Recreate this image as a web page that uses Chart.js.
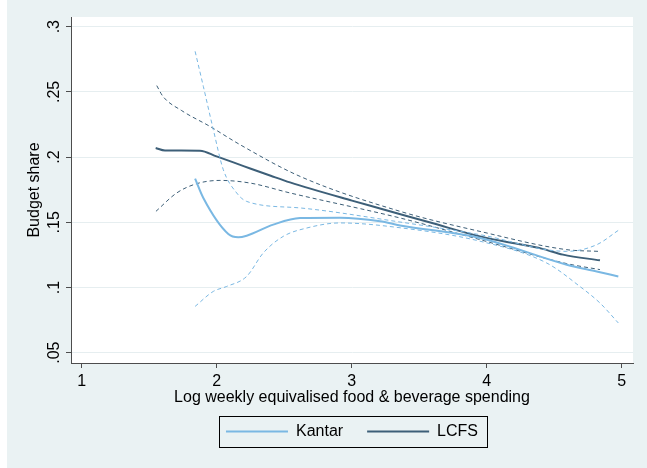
<!DOCTYPE html>
<html>
<head>
<meta charset="utf-8">
<script src="https://cdn.jsdelivr.net/npm/chart.js@4.4.1/dist/chart.umd.min.js"></script>
<style>
  html, body { margin: 0; padding: 0; background: #ffffff; }
</style>
</head>
<body>
<canvas id="engelChart" width="647" height="468"></canvas>
<script>
// DATA: log weekly equivalised spending (x) vs budget share (y)
const kantarLogSpend = [1.84, 1.901, 2.086, 2.16, 2.222, 2.419, 2.617, 2.913, 3.21, 3.358, 3.95, 4.593, 4.815, 4.975];
const kantarShare    = [0.1834, 0.1686, 0.141, 0.1385, 0.1397, 0.1482, 0.1533, 0.1535, 0.1508, 0.1476, 0.138, 0.1175, 0.1123, 0.1085];

const kantarHiLogSpend = [1.84, 1.901, 1.975, 2.049, 2.148, 2.222, 2.617, 3.358, 3.95, 4.593, 4.815, 4.975];
const kantarHiShare    = [0.2811, 0.2542, 0.221, 0.1903, 0.1725, 0.166, 0.161, 0.1502, 0.1405, 0.1277, 0.1328, 0.1438];

const kantarLoLogSpend = [1.84, 1.975, 2.074, 2.222, 2.345, 2.493, 2.667, 2.913, 3.358, 3.95, 4.444, 4.69, 4.839, 4.975];
const kantarLoShare    = [0.0855, 0.097, 0.1008, 0.1085, 0.1265, 0.1392, 0.1456, 0.1495, 0.1458, 0.1355, 0.1188, 0.1008, 0.0881, 0.0728];

const lcfsLogSpend = [1.548, 1.617, 1.876, 1.999, 2.199, 2.4, 2.543, 3.002, 3.21, 3.602, 3.95, 4.206, 4.407, 4.565, 4.839];
const lcfsShare    = [0.207, 0.2051, 0.2049, 0.2005, 0.1931, 0.1857, 0.1806, 0.1666, 0.1606, 0.1492, 0.1392, 0.1339, 0.1298, 0.1252, 0.1208];

const lcfsHiLogSpend = [1.556, 1.602, 1.741, 1.95, 2.173, 2.617, 3.358, 3.95, 4.593, 4.827];
const lcfsHiShare    = [0.2548, 0.2465, 0.2356, 0.2235, 0.2095, 0.1852, 0.1584, 0.143, 0.129, 0.1277];

const lcfsLoLogSpend = [1.55, 1.704, 1.852, 2.024, 2.246, 2.543, 3.358, 3.95, 4.593, 4.839];
const lcfsLoShare    = [0.1584, 0.1725, 0.1796, 0.1821, 0.1801, 0.1725, 0.1533, 0.1367, 0.1183, 0.1137];

const xTicks = [1, 2, 3, 4, 5];
const yTicks = [0.05, 0.1, 0.15, 0.2, 0.25, 0.3];

// COLOURS (stata-ish s2color look)
const KANTAR = '#7ab8e3';
const LCFS = '#3d5f78';
const REGION = '#eaf2f3';
const GRID = '#e6eef0';
const AXIS = '#4d4d4d';
const FONT = { family: "'Liberation Sans', Arial, sans-serif", size: 16 };

const toPoints = (xs, ys) => xs.map((x, i) => ({ x: x, y: ys[i] }));

function lineSet(label, xs, ys, color, dashed) {
  return {
    label: label,
    data: toPoints(xs, ys),
    borderColor: color,
    backgroundColor: color,
    borderWidth: dashed ? 1 : 2,
    borderDash: dashed ? [4, 3] : [],
    pointRadius: 0,
    pointHoverRadius: 0,
    fill: false,
    cubicInterpolationMode: 'monotone'
  };
}

const data = {
  datasets: [
    lineSet('Kantar', kantarLogSpend, kantarShare, KANTAR, false),
    lineSet('Kantar upper', kantarHiLogSpend, kantarHiShare, KANTAR, true),
    lineSet('Kantar lower', kantarLoLogSpend, kantarLoShare, KANTAR, true),
    lineSet('LCFS', lcfsLogSpend, lcfsShare, LCFS, false),
    lineSet('LCFS upper', lcfsHiLogSpend, lcfsHiShare, LCFS, true),
    lineSet('LCFS lower', lcfsLoLogSpend, lcfsLoShare, LCFS, true)
  ]
};

// grey graph region, white plot region, boxed legend
const stataLook = {
  id: 'stataLook',
  beforeDraw(chart) {
    const { ctx, chartArea: a } = chart;
    ctx.save();
    ctx.fillStyle = '#ffffff';
    ctx.fillRect(0, 0, chart.width, chart.height);
    ctx.fillStyle = REGION;
    ctx.fillRect(7, 0, chart.width - 7, chart.height);
    ctx.fillStyle = '#ffffff';
    ctx.fillRect(a.left, a.top, a.right - a.left, a.bottom - a.top);
    ctx.restore();
  },
  afterDraw(chart) {
    const boxes = chart.legend && chart.legend.legendHitBoxes;
    if (!boxes || !boxes.length) return;
    const first = boxes[0];
    const last = boxes[boxes.length - 1];
    const left = Math.round(first.left - 7) + 0.5;
    const right = Math.round(last.left + last.width + 9) + 0.5;
    const mid = first.top + first.height / 2;
    const ctx = chart.ctx;
    ctx.save();
    ctx.strokeStyle = '#000000';
    ctx.lineWidth = 1;
    ctx.strokeRect(left, Math.round(mid - 15.5) + 0.5, right - left, 31);
    ctx.restore();
  }
};

const config = {
  type: 'line',
  data: data,
  options: {
    responsive: false,
    animation: false,
    devicePixelRatio: 1,
    layout: { padding: { left: 7, top: 17, right: 14, bottom: 18.5 } },
    plugins: {
      tooltip: { enabled: false },
      legend: {
        position: 'bottom',
        fullSize: false,
        labels: {
          usePointStyle: true,
          pointStyle: 'line',
          pointStyleWidth: 62,
          padding: 24,
          color: '#000000',
          font: FONT,
          filter: item => item.text === 'Kantar' || item.text === 'LCFS'
        }
      }
    },
    scales: {
      x: {
        type: 'linear',
        min: 0.9207,
        max: 5.0837,
        afterBuildTicks: s => { s.ticks = xTicks.map(v => ({ value: v })); },
        afterFit: s => { s.height = 36.5; },
        border: { color: AXIS, width: 1 },
        grid: { drawOnChartArea: false, tickLength: 5, tickColor: AXIS },
        ticks: { color: '#000000', font: FONT, padding: 4, maxRotation: 0, callback: v => String(v) },
        title: {
          display: true,
          text: 'Log weekly equivalised food & beverage spending',
          color: '#000000',
          font: FONT,
          padding: { top: 0, bottom: -7.2 }
        }
      },
      y: {
        type: 'linear',
        min: 0.0421,
        max: 0.3074,
        afterBuildTicks: s => { s.ticks = yTicks.map(v => ({ value: v })); },
        afterFit: s => { s.width = 64; },
        border: { color: AXIS, width: 1 },
        grid: { color: GRID, lineWidth: 1, tickLength: 5, tickColor: AXIS },
        ticks: {
          color: '#000000',
          font: FONT,
          padding: 0,
          minRotation: 90,
          maxRotation: 90,
          crossAlign: 'center',
          callback: v => v.toFixed(2).replace(/0+$/, '').replace(/^0/, '')
        },
        title: {
          display: true,
          text: 'Budget share',
          color: '#000000',
          font: FONT,
          padding: { top: 18.4, bottom: 0 }
        }
      }
    }
  },
  plugins: [stataLook]
};

const ctx = document.getElementById('engelChart').getContext('2d');
const engelChart = new Chart(ctx, config);
</script>
</body>
</html>
